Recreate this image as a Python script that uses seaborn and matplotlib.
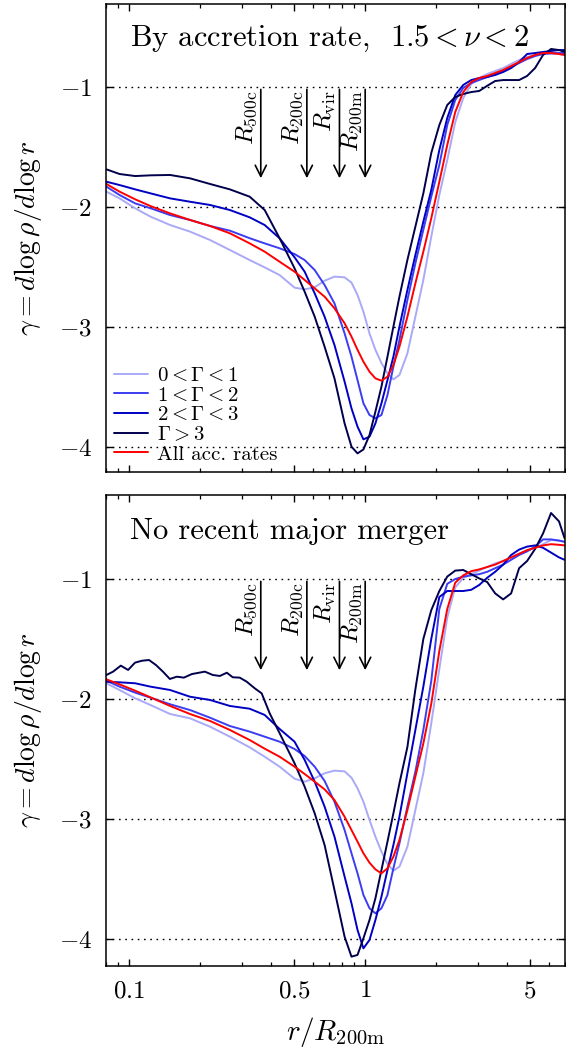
import numpy as np
import pandas as pd
import matplotlib
matplotlib.use("Agg")
import matplotlib.pyplot as plt
import seaborn as sns
from matplotlib.ticker import FixedLocator, NullFormatter

# ---------------- data ----------------
r = [0.080, 0.091, 0.106, 0.123, 0.149, 0.181, 0.220, 0.267, 0.324, 0.375,
     0.434, 0.502, 0.554, 0.611, 0.673, 0.741, 0.818, 0.875, 0.928, 0.983,
     1.043, 1.105, 1.172, 1.243, 1.317, 1.397, 1.510, 1.632, 1.764, 1.906,
     2.062, 2.228, 2.409, 2.604, 2.815, 3.043, 3.289, 3.556, 3.844, 4.155,
     4.492, 4.856, 5.25, 5.675, 6.135, 6.632, 7.0]

# top panel: by accretion rate, 1.5 < nu < 2
top_g01 = [-1.872, -1.928, -2.011, -2.08, -2.15, -2.205, -2.275, -2.358, -2.442, -2.503,
           -2.567, -2.672, -2.686, -2.669, -2.614, -2.58, -2.586, -2.63, -2.733, -2.872,
           -3.053, -3.19, -3.30, -3.386, -3.436, -3.40, -3.22, -2.914, -2.608, -2.247,
           -1.90, -1.608, -1.292, -1.092, -0.975, -0.925, -0.892, -0.867, -0.842, -0.808,
           -0.775, -0.75, -0.733, -0.725, -0.725, -0.725, -0.733]
top_g12 = [-1.83, -1.90, -1.97, -2.01, -2.067, -2.108, -2.158, -2.197, -2.26, -2.303,
           -2.344, -2.392, -2.442, -2.525, -2.65, -2.803, -3.053, -3.247, -3.442, -3.636,
           -3.733, -3.761, -3.733, -3.567, -3.33, -3.108, -2.775, -2.47, -2.19, -1.914,
           -1.65, -1.317, -1.108, -1.008, -0.967, -0.942, -0.917, -0.892, -0.867, -0.833,
           -0.80, -0.767, -0.742, -0.725, -0.717, -0.717, -0.717]
top_g23 = [-1.789, -1.817, -1.853, -1.886, -1.928, -1.956, -1.983, -2.025, -2.086, -2.15,
           -2.261, -2.419, -2.539, -2.72, -2.914, -3.15, -3.455, -3.678, -3.83, -3.936,
           -3.914, -3.803, -3.636, -3.442, -3.247, -2.997, -2.691, -2.40, -2.122, -1.858,
           -1.525, -1.258, -1.067, -0.983, -0.942, -0.925, -0.917, -0.90, -0.875, -0.842,
           -0.792, -0.725, -0.717, -0.708, -0.70, -0.692, -0.692]
top_g3 = [-1.686, -1.725, -1.742, -1.736, -1.733, -1.761, -1.808, -1.853, -1.914, -2.025,
          -2.261, -2.511, -2.706, -2.914, -3.164, -3.428, -3.803, -3.997, -4.053, -4.02,
          -3.90, -3.705, -3.497, -3.247, -2.997, -2.747, -2.441, -2.164, -1.886, -1.55,
          -1.317, -1.15, -1.083, -1.058, -1.042, -1.033, -0.99, -0.95, -0.942, -0.942,
          -0.942, -0.908, -0.842, -0.733, -0.683, -0.692, -0.708]
top_all = [-1.808, -1.872, -1.936, -1.992, -2.053, -2.108, -2.158, -2.219, -2.303, -2.372,
           -2.456, -2.539, -2.608, -2.678, -2.747, -2.844, -2.969, -3.08, -3.19, -3.289,
           -3.372, -3.428, -3.447, -3.414, -3.317, -3.164, -2.914, -2.636, -2.372, -2.094,
           -1.79, -1.483, -1.208, -1.042, -0.958, -0.925, -0.908, -0.883, -0.858, -0.825,
           -0.792, -0.758, -0.733, -0.717, -0.717, -0.725, -0.733]

# bottom panel: no recent major merger
bot_g01 = [-1.869, -1.925, -1.994, -2.05, -2.125, -2.161, -2.231, -2.314, -2.403, -2.481,
           -2.564, -2.664, -2.689, -2.661, -2.619, -2.597, -2.603, -2.656, -2.744, -2.856,
           -3.008, -3.147, -3.272, -3.375, -3.431, -3.397, -3.231, -2.925, -2.619, -2.203,
           -1.75, -1.32, -1.07, -0.99, -0.96, -0.93, -0.90, -0.87, -0.85, -0.82,
           -0.79, -0.76, -0.74, -0.71, -0.675, -0.68, -0.69]
bot_g12 = [-1.847, -1.897, -1.947, -1.989, -2.044, -2.092, -2.156, -2.225, -2.272, -2.314,
           -2.356, -2.417, -2.475, -2.564, -2.683, -2.856, -3.092, -3.286, -3.453, -3.633,
           -3.744, -3.786, -3.744, -3.633, -3.411, -3.203, -2.897, -2.606, -2.258, -1.85,
           -1.25, -1.04, -1.00, -0.98, -0.97, -0.96, -0.94, -0.91, -0.88, -0.84,
           -0.80, -0.77, -0.73, -0.67, -0.67, -0.68, -0.69]
bot_g23 = [-1.856, -1.861, -1.869, -1.897, -1.925, -1.981, -2.008, -2.058, -2.081, -2.133,
           -2.25, -2.356, -2.508, -2.689, -2.897, -3.147, -3.48, -3.703, -3.925, -4.078,
           -4.008, -3.842, -3.647, -3.425, -3.217, -2.981, -2.619, -2.258, -1.897, -1.5,
           -1.15, -1.10, -1.10, -1.10, -1.09, -1.05, -0.99, -0.94, -0.88, -0.80,
           -0.755, -0.73, -0.72, -0.74, -0.78, -0.82, -0.84]
bot_all = [-1.836, -1.878, -1.931, -1.986, -2.058, -2.125, -2.183, -2.258, -2.342, -2.414,
           -2.481, -2.564, -2.625, -2.689, -2.753, -2.842, -2.981, -3.092, -3.189, -3.286,
           -3.364, -3.42, -3.453, -3.411, -3.314, -3.175, -2.925, -2.647, -2.37, -2.04,
           -1.6, -1.25, -1.03, -0.97, -0.935, -0.92, -0.90, -0.88, -0.85, -0.82,
           -0.79, -0.76, -0.74, -0.72, -0.71, -0.715, -0.72]
# the Gamma > 3 curve of the lower panel is noisier: own radial sampling
r_g3_bot = [0.080, 0.0854, 0.0921, 0.0989, 0.1058, 0.1133, 0.1213, 0.1298, 0.1389, 0.1486,
            0.1592, 0.1704, 0.1843, 0.2092, 0.2261, 0.2421, 0.2592, 0.2746, 0.2940, 0.3148,
            0.3404, 0.3642, 0.3937, 0.4341,
            0.502, 0.554, 0.611, 0.673, 0.741, 0.818, 0.875, 0.928, 0.983,
            1.043, 1.105, 1.172, 1.243, 1.317, 1.397, 1.510, 1.632, 1.764, 1.906,
            2.062, 2.228, 2.409, 2.604, 2.815, 3.043, 3.289, 3.556, 3.844, 4.155,
            4.492, 4.856, 5.25, 5.675, 6.135, 6.632, 7.0]
bot_g3 = [-1.800, -1.772, -1.722, -1.758, -1.697, -1.681, -1.675, -1.717, -1.772, -1.833,
          -1.814, -1.822, -1.792, -1.772, -1.800, -1.808, -1.781, -1.819, -1.822, -1.856,
          -1.911, -1.953, -2.119, -2.286,
          -2.536, -2.731, -2.953, -3.217, -3.592, -3.981, -4.147, -4.133, -3.994,
          -3.842, -3.661, -3.425, -3.189, -2.953, -2.703, -2.40, -1.92, -1.50, -1.26,
          -1.10, -0.98, -0.93, -0.925, -0.96, -0.995, -1.025, -1.12, -1.17, -1.12,
          -0.91, -0.85, -0.75, -0.62, -0.45, -0.52, -0.66]

labels = [r"$0<\Gamma<1$", r"$1<\Gamma<2$", r"$2<\Gamma<3$", r"$\Gamma>3$", "All acc. rates"]
colors = ["#a9a9f7", "#3c3cf2", "#0000c4", "#00004d", "#ff0000"]

radii_names = [r"$R_{\rm 500c}$", r"$R_{\rm 200c}$", r"$R_{\rm vir}$", r"$R_{\rm 200m}$"]
radii_vals = [0.361, 0.566, 0.778, 1.0]

xticks = [0.1, 0.5, 1, 5]
xticklabels = [r"$0.1$", r"$0.5$", r"$1$", r"$5$"]
xminor = [0.08, 0.09, 0.2, 0.3, 0.4, 0.6, 0.7, 0.8, 0.9, 2, 3, 4, 6, 7]
yticks = [-1, -2, -3, -4]
yticklabels = [r"$-1$", r"$-2$", r"$-3$", r"$-4$"]

# ---------------- style ----------------
sns.set_theme(style="ticks")
plt.rcParams.update({
    "font.family": ["cmr10", "DejaVu Serif"],
    "mathtext.fontset": "cm",
    "axes.formatter.use_mathtext": True,
    "axes.unicode_minus": False,
    "axes.linewidth": 1.1,
    "axes.edgecolor": "black",
    "axes.labelcolor": "black",
    "text.color": "black",
    "xtick.color": "black", "ytick.color": "black",
    "xtick.direction": "in", "ytick.direction": "in",
    "xtick.top": True, "ytick.right": True,
})

fig = plt.figure(figsize=(5.66, 10.5), dpi=100)
W, H = 566.0, 1050.0
ax1 = fig.add_axes([106 / W, 1 - 472 / H, 459 / W, 468.4 / H])
ax2 = fig.add_axes([106 / W, 1 - 966 / H, 459 / W, 471 / H])

panels = [
    (ax1, [top_g01, top_g12, top_g23, top_g3, top_all], "By accretion rate,  $1.5 < \\nu < 2$", (-4.208, -0.305)),
    (ax2, [bot_g01, bot_g12, bot_g23, bot_g3, bot_all], "No recent major merger", (-4.225, -0.30)),
]

for ax, series, title, ylim in panels:
    for k, (ys, lab, col) in enumerate(zip(series, labels, colors)):
        xs = r
        if ax is ax2 and k == 3:
            xs = r_g3_bot
        df = pd.DataFrame({"r": xs, "g": ys})
        sns.lineplot(data=df, x="r", y="g", ax=ax, color=col, lw=1.4,
                     sort=False, estimator=None, legend=False)
    ax.set_xscale("log")
    ax.set_xlim(0.0797, 7.03)
    ax.set_ylim(*ylim)
    ax.set_yticks(yticks)
    ax.set_yticklabels(yticklabels, fontsize=18)
    ax.set_xticks(xticks)
    ax.xaxis.set_minor_locator(FixedLocator(xminor))
    ax.xaxis.set_minor_formatter(NullFormatter())
    ax.yaxis.set_minor_locator(FixedLocator([]))
    ax.tick_params(which="major", length=5, width=1.0, pad=10)
    ax.tick_params(which="minor", length=2.8, width=0.9)
    for y in yticks:
        ax.axhline(y, color="black", lw=1.0, dashes=(1.2, 3.3), zorder=0)
    ax.text(0.052, 0.924, title, transform=ax.transAxes, fontsize=22,
            ha="left", va="center")
    for name, xv in zip(radii_names, radii_vals):
        ax.annotate("", xy=(xv, -1.76), xytext=(xv, -1.02),
                    arrowprops=dict(arrowstyle="->", lw=1.2, color="black",
                                    mutation_scale=20, shrinkA=0, shrinkB=0))
        ax.annotate(name, xy=(xv, -1.03), xytext=(-1.0, 0), textcoords="offset points",
                    rotation=90, ha="right", va="top", fontsize=18)
    ax.set_ylabel(r"$\gamma = d\log\rho/d\log r$", fontsize=20)
    ax.yaxis.set_label_coords(-0.135, 0.5)

ax1.set_xticklabels([])
ax1.set_xlabel("")
ax2.set_xticklabels(xticklabels, fontsize=18)
ax2.set_xlabel(r"$r/R_{\rm 200m}$", fontsize=21)
ax2.xaxis.set_label_coords(0.5, -0.105)

handles = [plt.Line2D([], [], color=c, lw=1.4) for c in colors]
ax1.legend(handles, labels, loc="lower left", bbox_to_anchor=(0.0, 0.0),
           frameon=False, fontsize=15, handlelength=1.6, handletextpad=0.45,
           labelspacing=0.05, borderaxespad=0.2, borderpad=0.2)

fig.savefig("out.png", dpi=100)
